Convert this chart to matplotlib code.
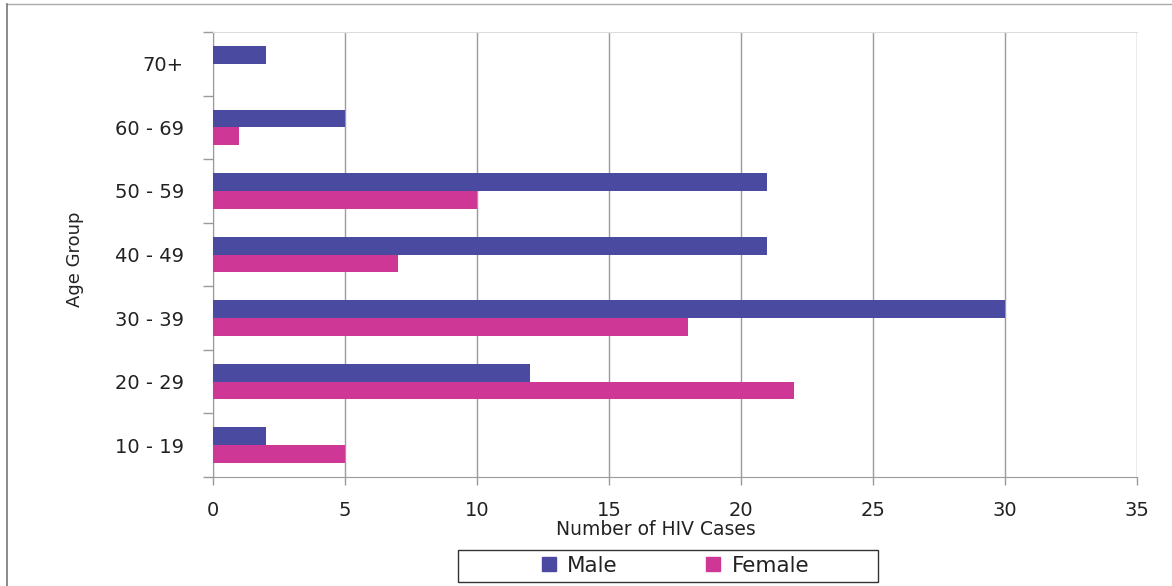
import matplotlib

matplotlib.use("Agg")
import matplotlib.pyplot as plt
import numpy as np
from matplotlib.lines import Line2D
from matplotlib.patches import Rectangle
from matplotlib.ticker import FixedLocator, MultipleLocator

AGE_GROUPS = ["10 - 19", "20 - 29", "30 - 39", "40 - 49", "50 - 59", "60 - 69", "70+"]
MALE = [2, 12, 30, 21, 21, 5, 2]
FEMALE = [5, 22, 18, 7, 10, 1, 0]

MALE_COLOR = "#4A4BA0"
FEMALE_COLOR = "#CE3795"
GRID = "#9A9A9A"
TEXT = "#222222"

plt.rcParams["font.family"] = ["DejaVu Sans"]

W, H = 1172, 586
fig = plt.figure(figsize=(W / 100, H / 100), dpi=100, facecolor="white")
ax = fig.add_axes([213 / W, 1 - 477 / H, 924 / W, 445 / H])

y = np.arange(len(AGE_GROUPS))
h = 0.28
ax.barh(y + h / 2, MALE, h, color=MALE_COLOR, label="Male", zorder=3)
ax.barh(y - h / 2, FEMALE, h, color=FEMALE_COLOR, label="Female", zorder=3)

ax.set_xlim(0, 35)
ax.set_ylim(-0.5, len(AGE_GROUPS) - 0.5)
ax.xaxis.set_major_locator(MultipleLocator(5))
ax.grid(axis="x", color=GRID, linewidth=1.0, zorder=1)
ax.set_axisbelow(True)

# category labels at centres, tick marks on the boundaries
ax.set_yticks(y)
ax.set_yticklabels(AGE_GROUPS, fontsize=14, color=TEXT)
ax.yaxis.set_minor_locator(FixedLocator(np.arange(-0.5, len(AGE_GROUPS), 1.0)))
ax.tick_params(axis="y", which="major", length=0, pad=21)
ax.tick_params(axis="y", which="minor", length=7, color=GRID, width=1)
ax.tick_params(axis="x", length=6, color=GRID, width=1, pad=11, labelsize=14, labelcolor=TEXT)

for side in ("left", "bottom"):
    ax.spines[side].set_color(GRID)
ax.spines["top"].set_color("#DDDDDD")
ax.spines["right"].set_visible(False)

ax.set_xlabel("Number of HIV Cases", fontsize=13.5, color=TEXT)
ax.xaxis.set_label_coords((656 - 213) / 924, (477 - 520) / 445)
ax.set_ylabel("Age Group", fontsize=13, color=TEXT,
              family=["Liberation Sans Narrow", "DejaVu Sans"])
ax.yaxis.set_label_coords((84 - 213) / 924, 0.49)

handles = [
    Line2D([], [], marker="s", linestyle="none", markersize=10, color=MALE_COLOR, label="Male"),
    Line2D([], [], marker="s", linestyle="none", markersize=10, color=FEMALE_COLOR, label="Female"),
]
leg = fig.legend(
    handles=handles,
    loc="center",
    bbox_to_anchor=(674 / W, 1 - 566 / H),
    ncols=2,
    frameon=False,
    fontsize=15.5,
    columnspacing=4.0,
    handletextpad=0.4,
    handlelength=0.9,
)
for t in leg.get_texts():
    t.set_color(TEXT)
fig.add_artist(Rectangle((458 / W, 1 - 582 / H), 420 / W, 32 / H, transform=fig.transFigure,
                         fill=False, edgecolor="#333333", linewidth=1.0))

# outer chart border on top and left
fig.add_artist(Line2D([7 / W, 1.0], [1 - 4 / H, 1 - 4 / H], color="#AAAAAA", linewidth=1.0))
fig.add_artist(Line2D([7 / W, 7 / W], [0.0, 1 - 4 / H], color="#777777", linewidth=1.2))

fig.savefig("out.png", dpi=100, facecolor="white")
